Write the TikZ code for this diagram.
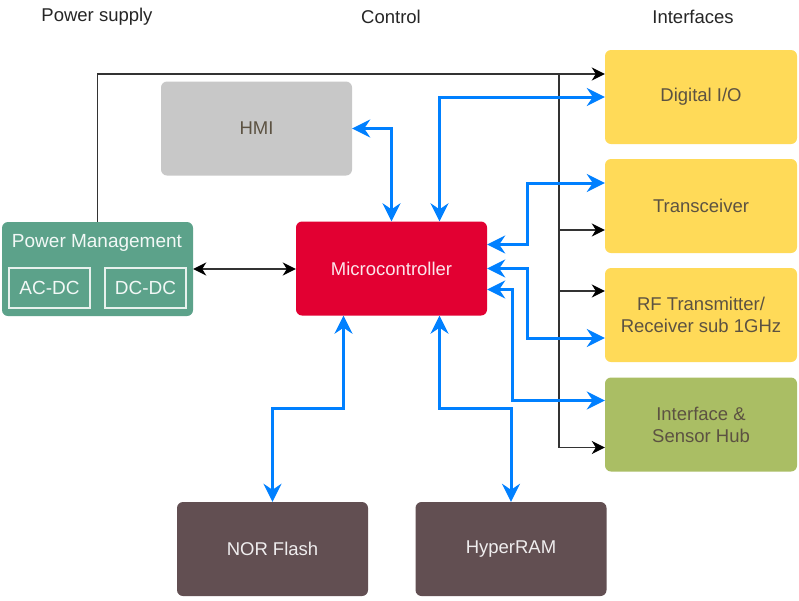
\documentclass[tikz,border=0pt]{standalone}
\usepackage{fontspec}
\setmainfont{Liberation Sans}
\usetikzlibrary{arrows.meta,calc,positioning}
\definecolor{busblue}{RGB}{0,128,255}
\definecolor{ifyellow}{RGB}{255,218,88}
\definecolor{hubgreen}{RGB}{170,190,100}
\definecolor{pwrteal}{RGB}{92,162,138}
\definecolor{mcured}{RGB}{226,0,50}
\definecolor{hmigray}{RGB}{200,200,200}
\definecolor{membrown}{RGB}{98,79,82}
\definecolor{darktext}{RGB}{92,82,66}

\begin{document}
\begin{tikzpicture}[x=1pt,y=-1pt,
    blk/.style={rounded corners=6pt,minimum width=191pt,minimum height=94pt,inner sep=0pt,
        align=center,font=\fontsize{18.5}{22}\selectfont},
    sub/.style={draw=white!85!pwrteal,line width=1.5pt,minimum width=81pt,minimum height=40pt,
        inner sep=0pt,text=white!92!pwrteal,font=\fontsize{19}{22}\selectfont},
    hdr/.style={font=\fontsize{18.5}{22}\selectfont,text=black!85},
    bustip/.tip={Stealth[length=18pt,width=18pt,inset=6pt]},
    pwrtip/.tip={Stealth[length=13pt,width=13pt,inset=4pt,black]},
    bus/.style={draw=busblue,line width=3pt,bustip-bustip},
    pwrline/.style={draw=black!80,line width=1.8pt,-pwrtip}]
    \useasboundingbox[fill=white] (0,0) rectangle (799,600);

    \node[hdr] (hdrpwr) at (97,17) {Power supply};
    \node[hdr] (hdrctl) at (391,17) {Control};
    \node[hdr] (hdrif) at (693,17) {Interfaces};

    \node[blk,fill=pwrteal] (pwr) at (97.5,269) {};
    \node[font=\fontsize{19}{22}\selectfont,text=white!92!pwrteal] (pwrlbl) at (97,243) {Power Management};
    \node[sub] (acdc) at (49.5,288) {AC-DC};
    \node[sub] (dcdc) at (145.5,288) {DC-DC};

    \node[blk,fill=hmigray,text=darktext] (hmi) at (256.5,128.5) {HMI};
    \node[blk,fill=mcured,text=white!90!mcured] (mcu) at (391.5,268.5) {Microcontroller};
    \node[blk,fill=membrown,text=white!90!membrown] (nor) at (272.5,549) {NOR Flash};
    \node[blk,fill=membrown,text=white!90!membrown] (ram) at (511,549) {HyperRAM};

    \node[blk,minimum width=192pt,fill=ifyellow,text=darktext] (dio) at (701,97) {Digital I/O};
    \node[blk,minimum width=192pt,fill=ifyellow,text=darktext] (trx) at (701,206) {Transceiver};
    \node[blk,minimum width=192pt,fill=ifyellow,text=darktext] (rf) at (701,315) {RF Transmitter/\\Receiver sub 1GHz};
    \node[blk,minimum width=192pt,fill=hubgreen,text=darktext] (hub) at (701,424.5) {Interface \&\\Sensor Hub};

    \coordinate (tapbus) at ($(dio.west)+(-46,-23)$);
    \draw[pwrline] (pwr.north) |- (tapbus) -- ($(dio.west)+(0,-23)$);
    \draw[pwrline] (tapbus) |- ($(hub.west)+(0,23)$);
    \foreach \blkname/\dy in {trx/24,rf/-24}
        \draw[pwrline] ($(\blkname.west)+(0,\dy)$) coordinate (tap) (tapbus |- tap) -- (tap);
    \draw[pwrline,pwrtip-pwrtip] (pwr.east) -- (mcu.west |- pwr.east);

    \draw[bus] (hmi.east) -| (mcu.north);
    \draw[bus] ($(mcu.north)+(48,0)$) |- (dio.west);
    \draw[bus] ($(mcu.east)+(0,-24)$) -- ++(40,0) |- ($(trx.west)+(0,-23)$);
    \draw[bus] (mcu.east) -- ++(40,0) |- ($(rf.west)+(0,23)$);
    \draw[bus] ($(mcu.east)+(0,21)$) -- ++(25,0) |- ($(hub.west)+(0,-24)$);
    \draw[bus] ($(mcu.south)+(-48,0)$) -- ++(0,93) -| (nor.north);
    \draw[bus] ($(mcu.south)+(48,0)$) -- ++(0,93) -| (ram.north);
\end{tikzpicture}
\end{document}
